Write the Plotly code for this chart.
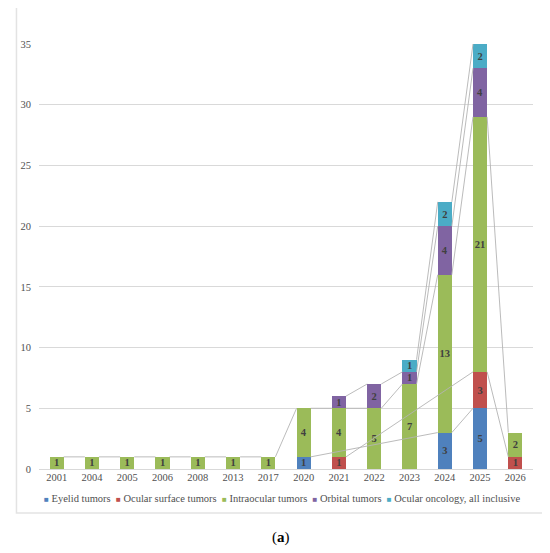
import plotly.graph_objects as go

# data (None = blank, no segment)
years = ["2001", "2004", "2005", "2006", "2008", "2013", "2017",
         "2020", "2021", "2022", "2023", "2024", "2025", "2026"]

eyelid = [None, None, None, None, None, None, None, 1, None, None, None, 3, 5, None]
ocular_surface = [None, None, None, None, None, None, None, None, 1, None, None, None, 3, 1]
intraocular = [1, 1, 1, 1, 1, 1, 1, 4, 4, 5, 7, 13, 21, 2]
orbital = [None, None, None, None, None, None, None, None, 1, 2, 1, 4, 4, None]
all_inclusive = [None, None, None, None, None, None, None, None, None, None, 1, 2, 2, None]

series_names = ["Eyelid tumors", "Ocular surface tumors", "Intraocular tumors",
                "Orbital tumors", "Ocular oncology, all inclusive"]
series_values = [eyelid, ocular_surface, intraocular, orbital, all_inclusive]
colors = ["#4F81BD", "#C0504D", "#9BBB59", "#8064A2", "#4BACC6"]

FONT = "Liberation Serif"
BAR_W = 0.4
xs = list(range(len(years)))

# the page body adds an 8px margin, so the figure is drawn 8px smaller
OFF = 8
W, H = 550 - OFF, 553 - OFF
# plot area in page pixels: x 29..533, y 44..469
L, R, T, B = 29 - OFF, 550 - 533, 44 - OFF, 553 - 469
pw, ph = W - L - R, H - T - B


def px_x(p):
    return (p - OFF - L) / pw


def px_y(p):
    return (H - B - (p - OFF)) / ph


fig = go.Figure()

# series lines (Excel style): connect segment tops of each series, behind the bars
running = [0] * len(years)
for name, vals in zip(series_names, series_values):
    running = [r + (v or 0) for r, v in zip(running, vals)]
    idx = [i for i, v in enumerate(vals) if v]
    lx, ly = [], []
    for a, b in zip(idx[:-1], idx[1:]):
        lx += [a + BAR_W / 2, b - BAR_W / 2, None]
        ly += [running[a], running[b], None]
    fig.add_trace(go.Scatter(
        x=lx, y=ly, mode="lines", showlegend=False, hoverinfo="skip",
        line=dict(color="#b3b3b3", width=0.9),
    ))

for name, vals, c in zip(series_names, series_values, colors):
    fig.add_trace(go.Bar(
        x=xs, y=vals, name=name, width=BAR_W,
        marker=dict(color=c, line=dict(width=0)),
        text=[str(v) if v else "" for v in vals],
        textposition="inside", insidetextanchor="middle", textangle=0,
        constraintext="none",
        textfont=dict(family=FONT, size=10.5, color="#404040", weight="bold"),
        showlegend=False,
    ))

# legend drawn as one text line
legend_parts = []
for name, c in zip(series_names, colors):
    legend_parts.append(
        f"<span style='color:{c};font-size:8px'>■</span> {name}"
    )
legend_text = "&nbsp;&nbsp;".join(legend_parts)

fig.update_layout(
    width=W, height=H,
    margin=dict(l=L, r=R, t=T, b=B),
    paper_bgcolor="white", plot_bgcolor="white",
    barmode="stack",
    font=dict(family=FONT, size=10, color="#505050"),
    xaxis=dict(
        tickmode="array", tickvals=xs, ticktext=years,
        range=[-0.5, len(years) - 0.5], showgrid=False, zeroline=False,
        showline=False, ticks="", tickfont=dict(size=10.5, color="#505050"),
    ),
    yaxis=dict(
        range=[0, 35], dtick=5, showgrid=True, gridcolor="#d9d9d9",
        gridwidth=1, zeroline=True, zerolinecolor="#d9d9d9", zerolinewidth=1,
        showline=False, ticks="", ticklabelstandoff=7,
        tickfont=dict(size=10.5, color="#505050"),
    ),
    annotations=[
        dict(text=legend_text, xref="paper", yref="paper",
             x=px_x(277), y=px_y(498), xanchor="center", yanchor="middle",
             showarrow=False, font=dict(family=FONT, size=10.5, color="#505050")),
        dict(text="(<b>a</b>)", xref="paper", yref="paper",
             x=px_x(276), y=px_y(537), xanchor="center", yanchor="middle",
             showarrow=False, font=dict(family=FONT, size=15, color="#000000")),
    ],
    shapes=[
        dict(type="rect", xref="paper", yref="paper",
             x0=px_x(6), x1=px_x(544), y0=px_y(513), y1=px_y(-3),
             line=dict(color="#e3e3e3", width=1.5), layer="below"),
    ],
)

fig.write_html("out.html")
